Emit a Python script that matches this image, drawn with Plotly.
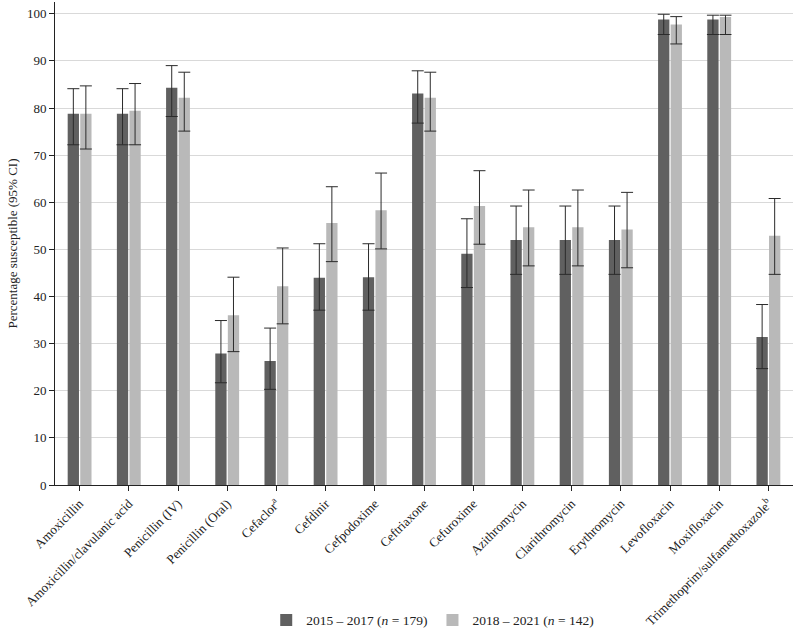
import plotly.graph_objects as go

categories = [
    "Amoxicillin", "Amoxicillin/clavulanic acid", "Penicillin (IV)", "Penicillin (Oral)",
    "Cefaclor<sup>a</sup>", "Cefdinir", "Cefpodoxime", "Ceftriaxone", "Cefuroxime",
    "Azithromycin", "Clarithromycin", "Erythromycin", "Levofloxacin", "Moxifloxacin",
    "Trimethoprim/sulfamethoxazole<sup>b</sup>",
]

# 2015 - 2017 (n = 179)
s1_val = [78.8, 78.8, 84.3, 27.9, 26.3, 44.0, 44.1, 83.1, 49.1, 52.0, 52.0, 52.0, 98.8, 98.8, 31.4]
s1_hi = [84.1, 84.1, 89.0, 34.9, 33.3, 51.2, 51.2, 87.9, 56.5, 59.2, 59.2, 59.2, 99.9, 99.7, 38.3]
s1_lo = [72.2, 72.2, 78.2, 21.7, 20.3, 37.1, 37.1, 76.8, 41.9, 44.7, 44.7, 44.7, 95.6, 95.6, 24.7]

# 2018 - 2021 (n = 142)
s2_val = [78.8, 79.4, 82.2, 36.0, 42.2, 55.6, 58.3, 82.2, 59.2, 54.7, 54.7, 54.2, 97.7, 99.3, 52.9]
s2_hi = [84.7, 85.2, 87.6, 44.1, 50.3, 63.3, 66.2, 87.6, 66.7, 62.6, 62.6, 62.1, 99.4, 99.7, 60.8]
s2_lo = [71.3, 72.2, 75.1, 28.3, 34.2, 47.4, 50.1, 75.1, 51.1, 46.5, 46.5, 46.1, 93.6, 95.6, 44.7]

series_names = ["2015 – 2017 (<i>n</i> = 179)", "2018 – 2021 (<i>n</i> = 142)"]
colors = ["#606060", "#b9b9b9"]

FONT = "Liberation Serif"

fig = go.Figure()
for name, col, v, hi, lo in [
    (series_names[0], colors[0], s1_val, s1_hi, s1_lo),
    (series_names[1], colors[1], s2_val, s2_hi, s2_lo),
]:
    fig.add_trace(go.Bar(
        x=categories, y=v, name=name, marker=dict(color=col, line=dict(width=0)),
        error_y=dict(type="data", symmetric=False,
                     array=[h - a for h, a in zip(hi, v)],
                     arrayminus=[a - l for a, l in zip(v, lo)],
                     color="#2b2b2b", thickness=1, width=6),
    ))

fig.update_layout(
    width=794, height=631,
    margin=dict(l=55, r=1, t=2, b=146),
    plot_bgcolor="white", paper_bgcolor="white",
    barmode="group", bargap=0.49, bargroupgap=0.1,
    font=dict(family=FONT, size=13, color="#222"),
    showlegend=True,
    legend=dict(orientation="h", x=0.545, xanchor="center", xref="container",
                y=0.017, yanchor="middle", yref="container",
                font=dict(size=13.5), tracegroupgap=10),
    xaxis=dict(
        tickangle=-45, showline=True, linecolor="#222", linewidth=1, automargin=False,
        ticks="outside", ticklen=5, tickcolor="#222", showgrid=False,
        tickfont=dict(size=13, family=FONT),
    ),
    yaxis=dict(
        range=[0, 102.5], dtick=10, showline=True, linecolor="#222", linewidth=1,
        ticks="outside", ticklen=5, tickcolor="#222", automargin=False,
        showgrid=True, gridcolor="#d9d9d9", gridwidth=1, zeroline=False,
        title=dict(text="Percentage susceptible (95% CI)", font=dict(size=13), standoff=6),
        tickfont=dict(size=13),
    ),
)

fig.write_html("out.html")
